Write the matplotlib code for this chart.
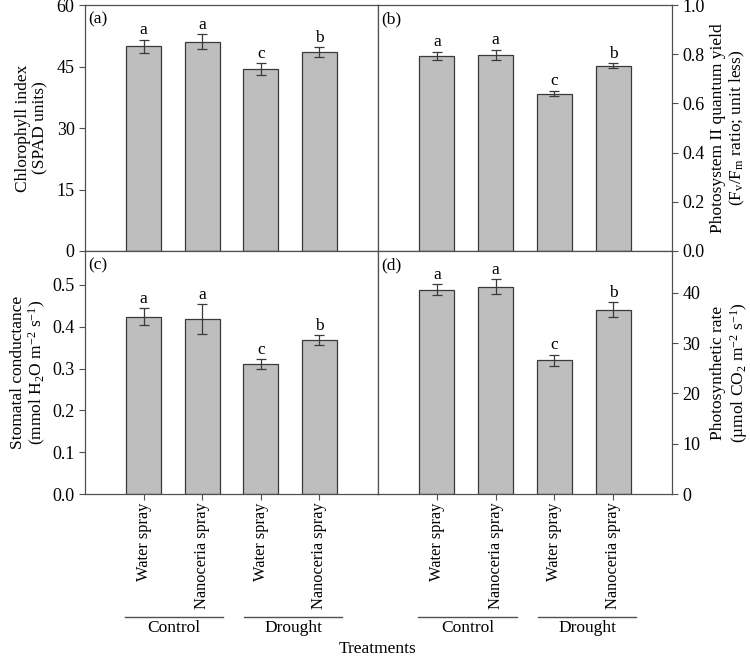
import numpy as np
import matplotlib
matplotlib.use("Agg")
import matplotlib.pyplot as plt
import matplotlib.transforms as mtransforms

plt.rcParams["font.family"] = ["Liberation Serif", "DejaVu Serif"]
plt.rcParams["mathtext.fontset"] = "custom"
plt.rcParams["mathtext.rm"] = "Liberation Serif"
plt.rcParams["mathtext.it"] = "Liberation Serif:italic"
plt.rcParams["font.size"] = 12

treatments = ["Water spray", "Nanoceria spray", "Water spray", "Nanoceria spray"]
groups = ["Control", "Drought"]

chlorophyll = [49.9, 51.1, 44.4, 48.5]
chlorophyll_err = [1.6, 1.8, 1.4, 1.2]
chlorophyll_sig = ["a", "a", "c", "b"]

fvfm = [0.794, 0.798, 0.640, 0.753]
fvfm_err = [0.016, 0.021, 0.011, 0.010]
fvfm_sig = ["a", "a", "c", "b"]

stomatal = [0.424, 0.418, 0.310, 0.368]
stomatal_err = [0.020, 0.036, 0.012, 0.012]
stomatal_sig = ["a", "a", "c", "b"]

photo_rate = [40.6, 41.2, 26.6, 36.6]
photo_rate_err = [1.1, 1.5, 1.1, 1.5]
photo_rate_sig = ["a", "a", "c", "b"]

bar_color = "#bebebe"
edge_color = "#3a3a3a"
frame_color = "#505050"
x = np.arange(1, 5)

fig = plt.figure(figsize=(7.5, 6.6), dpi=100)
ax_a = fig.add_axes([0.1133, 0.6197, 0.3907, 0.3727])
ax_b = fig.add_axes([0.504, 0.6197, 0.392, 0.3727])
ax_c = fig.add_axes([0.1133, 0.2515, 0.3907, 0.3682])
ax_d = fig.add_axes([0.504, 0.2515, 0.392, 0.3682])


def draw_panel(ax, vals, errs, sig, ylim, yticks, fmt, label, tag, right=False, bottom=False):
    ax.bar(x, vals, width=0.6, color=bar_color, edgecolor=edge_color, linewidth=0.9, zorder=2)
    ax.errorbar(x, vals, yerr=errs, fmt="none", ecolor=edge_color, elinewidth=0.9,
                capsize=3.5, capthick=0.9, zorder=3)
    for xi, v, e, s in zip(x, vals, errs, sig):
        ax.annotate(s, (xi, v + e), xytext=(0, 1), textcoords="offset points",
                    ha="center", va="bottom", fontsize=12.5)
    ax.set_xlim(0, 5)
    ax.set_ylim(*ylim)
    ax.set_yticks(yticks)
    ax.set_yticklabels([fmt.format(t) for t in yticks])
    ax.set_xticks(x)
    for sp in ax.spines.values():
        sp.set_color(frame_color)
        sp.set_linewidth(0.9)
    ax.tick_params(axis="y", direction="out", length=4, width=0.8, color=frame_color,
                   labelsize=13)
    ax.tick_params(axis="x", direction="out", length=4, width=0.8, color=frame_color,
                   labelsize=11.8, pad=2)
    if right:
        ax.yaxis.tick_right()
        ax.yaxis.set_label_position("right")
        ax.set_ylabel(label, rotation=90, fontsize=12.5, linespacing=1.1)
        ax.yaxis.set_label_coords(1.13, 0.5)
    else:
        ax.set_ylabel(label, fontsize=12.5, linespacing=1.1)
        ax.yaxis.set_label_coords(-0.125, 0.5)
    if bottom:
        ax.set_xticklabels(treatments, rotation=90)
    else:
        ax.set_xticklabels([])
    ax.text(0.012, 0.975, tag, transform=ax.transAxes, ha="left", va="top", fontsize=12.5)
    if bottom:
        trans = mtransforms.blended_transform_factory(ax.transData, ax.transAxes)
        spans = [(0.68, 2.36), (2.72, 4.39)]
        for (x0, x1), g in zip(spans, groups):
            ax.plot([x0, x1], [-0.505, -0.505], color=frame_color, linewidth=1.0,
                    transform=trans, clip_on=False)
            ax.text((x0 + x1) / 2, -0.52, g, transform=trans, ha="center", va="top",
                    fontsize=12.5)


draw_panel(ax_a, chlorophyll, chlorophyll_err, chlorophyll_sig, (0, 60), [0, 15, 30, 45, 60],
           "{:.0f}", "Chlorophyll index\n(SPAD units)", "(a)")
draw_panel(ax_b, fvfm, fvfm_err, fvfm_sig, (0, 1.0), [0.0, 0.2, 0.4, 0.6, 0.8, 1.0],
           "{:.1f}", "Photosystem II quantum yield\n(F$_\\mathrm{v}$/F$_\\mathrm{m}$ ratio; unit less)",
           "(b)", right=True)
draw_panel(ax_c, stomatal, stomatal_err, stomatal_sig, (0, 0.581), [0.0, 0.1, 0.2, 0.3, 0.4, 0.5],
           "{:.1f}", "Stomatal conductance\n(mmol H$_\\mathrm{2}$O m$^{\\mathrm{-2}}$ s$^{\\mathrm{-1}}$)",
           "(c)", bottom=True)
draw_panel(ax_d, photo_rate, photo_rate_err, photo_rate_sig, (0, 48.3), [0, 10, 20, 30, 40],
           "{:.0f}", "Photosynthetic rate\n(\u00b5mol CO$_\\mathrm{2}$ m$^{\\mathrm{-2}}$ s$^{\\mathrm{-1}}$)",
           "(d)", right=True, bottom=True)

fig.text(0.504, 0.004, "Treatments", ha="center", va="bottom", fontsize=12.5)

fig.savefig("out.png", dpi=100)
